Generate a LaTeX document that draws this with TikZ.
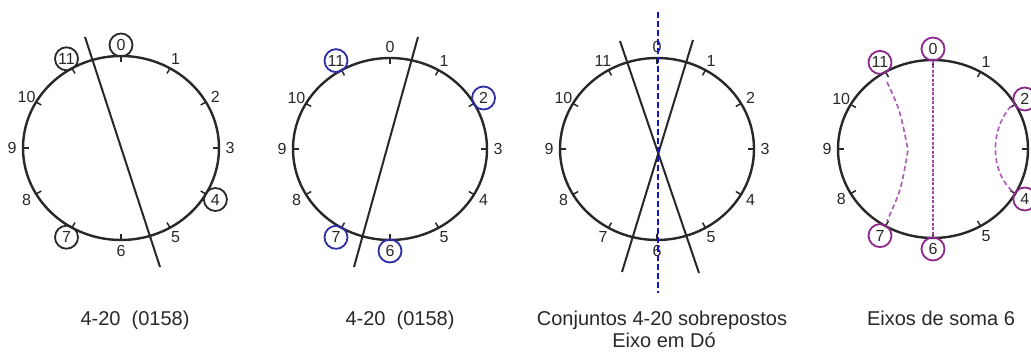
\documentclass[tikz,border=0pt]{standalone}
\usepackage{fontspec}
\setmainfont{Liberation Sans}
\usetikzlibrary{calc}
\definecolor{cblue}{RGB}{45,45,165}
\definecolor{dblue}{RGB}{20,20,200}
\definecolor{cpurp}{RGB}{140,40,140}
\definecolor{dpurp}{RGB}{175,95,185}
\definecolor{ink}{RGB}{40,40,40}
\tikzset{
 rim/.style={line width=2.4pt, ink},
 tickmark/.style={line width=1.5pt, ink},
 lab/.style={font=\fontsize{16}{19}\selectfont, text=ink, inner sep=0pt},
 ring/.style={lab, circle, line width=1.8pt, minimum size=23pt},
 ringk/.style={ring, draw=ink},
 ringb/.style={ring, draw=cblue},
 ringp/.style={ring, draw=cpurp},
 axisline/.style={line width=2pt, ink},
 bluedash/.style={line width=2.4pt, dblue, dash pattern=on 6pt off 3pt},
 purpdash/.style={line width=1.7pt, dpurp, dash pattern=on 5pt off 3pt},
 purpdense/.style={line width=1.7pt, cpurp!85, dash pattern=on 3pt off 1.5pt},
 caption/.style={font=\fontsize{20}{24}\selectfont, text=ink, anchor=base, inner sep=0pt, align=center},
}
% name, cx, cy, rx, ry
\newcommand\clockface[5]{%
 \coordinate (#1) at (#2,#3);
 \draw[rim] (#1) ellipse [x radius=#4, y radius=#5];
 \foreach \k in {0,...,11}{
  \draw[tickmark] ({#2+#4*sin(30*\k)},{#3-#5*cos(30*\k)}) -- ({#2+(#4-6)*sin(30*\k)},{#3-(#5-6)*cos(30*\k)});
 }}
% name, cx, cy, rx, ry, list of number/style
\newcommand\clocklabels[6]{%
 \foreach \k/\s in {#6}{
  \node[\s] (#1-\k) at ({#2+(#4+11)*sin(30*\k)},{#3-(#5+11)*cos(30*\k)}) {\k};
 }}
\begin{document}
\begin{tikzpicture}[x=1pt,y=-1pt]
\useasboundingbox (0,0) rectangle (1031,352);
% ---- clock 1
\clockface{A}{121}{148}{98}{92}
\clocklabels{A}{121}{148}{98}{92}{0/ringk,1/lab,2/lab,3/lab,4/ringk,5/lab,6/lab,7/ringk,8/lab,9/lab,10/lab,11/ringk}
\coordinate (A-top) at (85,37);
\coordinate (A-bot) at (160,267);
\draw[axisline] (A-top) -- (A-bot);
% ---- clock 2
\clockface{B}{390}{149}{97}{91}
\clocklabels{B}{390}{149}{97}{91}{0/lab,1/lab,2/ringb,3/lab,4/lab,5/lab,6/ringb,7/ringb,8/lab,9/lab,10/lab,11/ringb}
\coordinate (B-top) at (418,37);
\coordinate (B-bot) at (354,267);
\draw[axisline] (B-top) -- (B-bot);
% ---- clock 3
\clockface{C}{657}{149}{97}{91}
\clocklabels{C}{657}{149}{97}{91}{0/lab,1/lab,2/lab,3/lab,4/lab,5/lab,6/lab,7/lab,8/lab,9/lab,10/lab,11/lab}
\coordinate (C-atop) at (620,41);
\coordinate (C-abot) at (699,273);
\coordinate (C-btop) at (693,40);
\coordinate (C-bbot) at (622,272);
\draw[axisline] (C-atop) -- (C-abot);
\draw[axisline] (C-btop) -- (C-bbot);
\coordinate (C-dtop) at (658,12);
\coordinate (C-dbot) at (658,293);
\draw[bluedash] (C-dtop) -- (C-dbot);
% ---- clock 4
\clockface{D}{933}{149}{95}{89}
\clocklabels{D}{933}{149}{95}{89}{0/ringp,1/lab,2/ringp,4/ringp,5/lab,6/ringp,7/ringp,8/lab,9/lab,10/lab,11/ringp}
\coordinate (D-v0) at (933,61);
\coordinate (D-v6) at (933,237);
\draw[purpdense] (D-v0) -- (D-v6);
\coordinate (D-l11) at (887,82);
\coordinate (D-lmid) at (908,150);
\coordinate (D-l7) at (887,221);
\draw[purpdash] (D-l11) .. controls (900,110) .. (D-lmid) .. controls (901,190) .. (D-l7);
\coordinate (D-r2) at (1011,106);
\coordinate (D-r4) at (1012,191);
\draw[purpdash] (D-r2) .. controls (990,130) and (990,170) .. (D-r4);
% ---- captions
\node[caption] (capA) at (135,326) {4-20\ \ (0158)};
\node[caption] (capB) at (400,326) {4-20\ \ (0158)};
\node[caption] (capC) at (662,326) {Conjuntos 4-20 sobrepostos};
\node[caption] (capC2) at (664,348) {Eixo em Dó};
\node[caption] (capD) at (941,326) {Eixos de soma 6};
\end{tikzpicture}
\end{document}
